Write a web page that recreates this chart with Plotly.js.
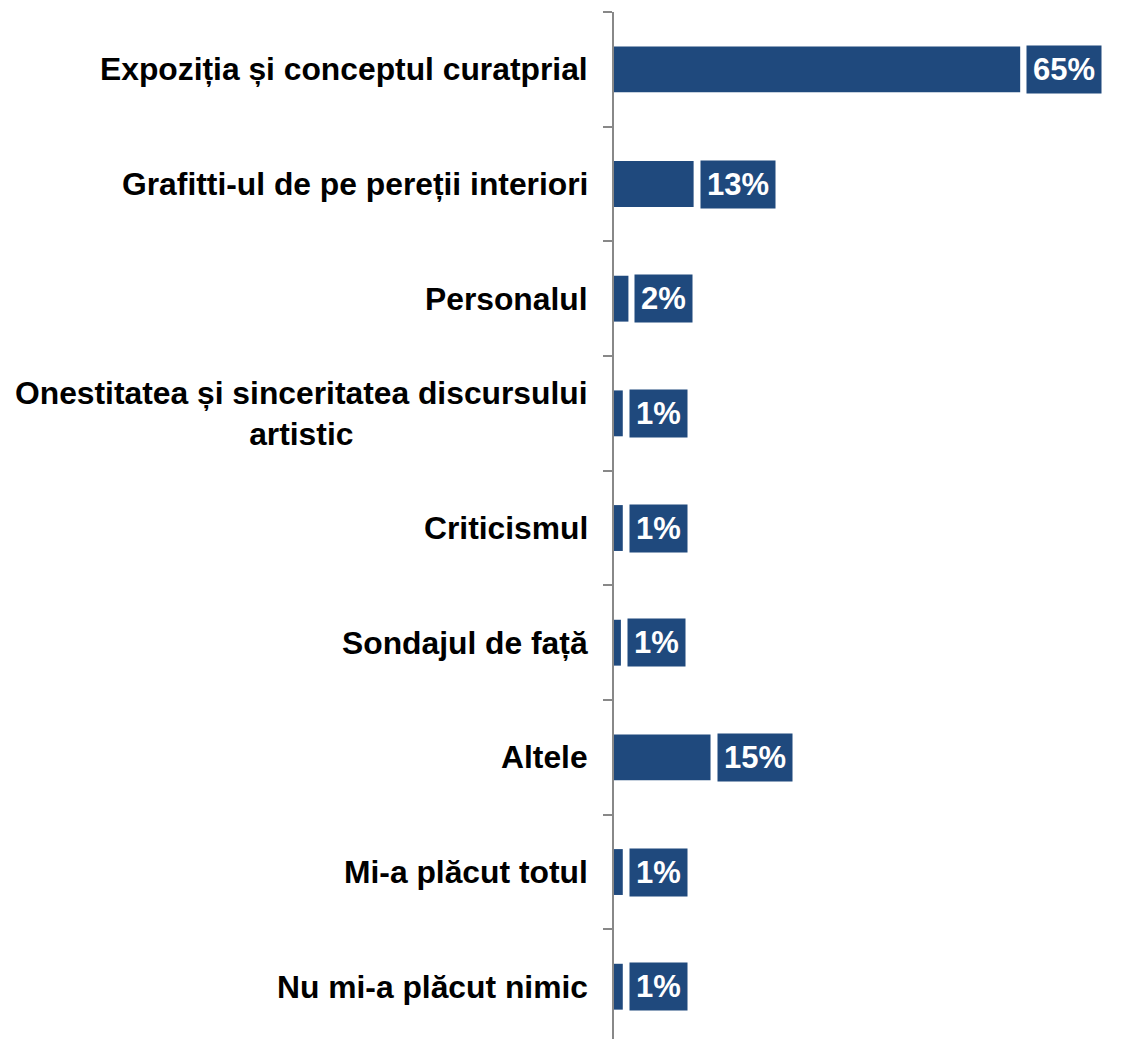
<!DOCTYPE html>
<html>
<head>
<meta charset="utf-8">
<script src="https://cdn.plot.ly/plotly-3.0.1.min.js"></script>
<style>
  html, body { margin: 0; padding: 0; background: #ffffff; }
  #chart { width: 1128px; height: 1039px; }
</style>
</head>
<body>
<div id="chart"></div>
<script>
// ---- data ----
const categories = [
  "Expoziția și conceptul curatprial",
  "Grafitti-ul de pe pereții interiori",
  "Personalul",
  "Onestitatea și sinceritatea discursului<br>artistic",
  "Criticismul",
  "Sondajul de față",
  "Altele",
  "Mi-a plăcut totul",
  "Nu mi-a plăcut nimic"
];
const values = [64.8, 12.7, 2.3, 1.4, 1.4, 1.1, 15.4, 1.4, 1.4];
const valueLabels = ["65%", "13%", "2%", "1%", "1%", "1%", "15%", "1%", "1%"];

// ---- styling ----
const barColor = "#1F497D";
const fontFamily = "Liberation Sans, Arial, sans-serif";
const catIdx = categories.map((c, i) => i);

const trace = {
  type: "bar",
  orientation: "h",
  y: catIdx,
  x: values,
  marker: { color: barColor, line: { width: 0 } },
  hoverinfo: "skip"
};

const annotations = [];
// value label boxes
values.forEach((v, i) => {
  annotations.push({
    x: v, y: i, xref: "x", yref: "y",
    text: valueLabels[i],
    showarrow: false,
    xanchor: "left", yanchor: "middle",
    xshift: 6,
    bgcolor: barColor,
    borderpad: 6,
    font: { family: fontFamily, size: 31, color: "#ffffff", weight: "bold" }
  });
});
// category labels (centered multi-line, right-aligned block)
categories.forEach((c, i) => {
  annotations.push({
    x: 0, y: i, xref: "paper", yref: "y",
    text: c,
    showarrow: false,
    xanchor: "right", yanchor: "middle",
    align: "center",
    xshift: -24,
    font: { family: fontFamily, size: 31.8, color: "#000000", weight: "bold" }
  });
});

const layout = {
  width: 1128,
  height: 1039,
  margin: { l: 614, r: 0, t: 12, b: 0, pad: 0 },
  paper_bgcolor: "#ffffff",
  plot_bgcolor: "#ffffff",
  showlegend: false,
  bargap: 0.6,
  xaxis: {
    range: [0, 82],
    visible: false,
    showgrid: false,
    zeroline: false
  },
  yaxis: {
    type: "linear",
    range: [8.456, -0.5],
    showgrid: false,
    zeroline: false,
    showline: true,
    linecolor: "#888888",
    linewidth: 2,
    ticks: "outside",
    ticklen: 9,
    tickwidth: 2,
    tickcolor: "#888888",
    tickmode: "array",
    tickvals: [-0.5, 0.5, 1.5, 2.5, 3.5, 4.5, 5.5, 6.5, 7.5, 8.5],
    showticklabels: false
  },
  annotations: annotations
};

Plotly.newPlot("chart", [trace], layout, { staticPlot: true, displayModeBar: false });
</script>
</body>
</html>
